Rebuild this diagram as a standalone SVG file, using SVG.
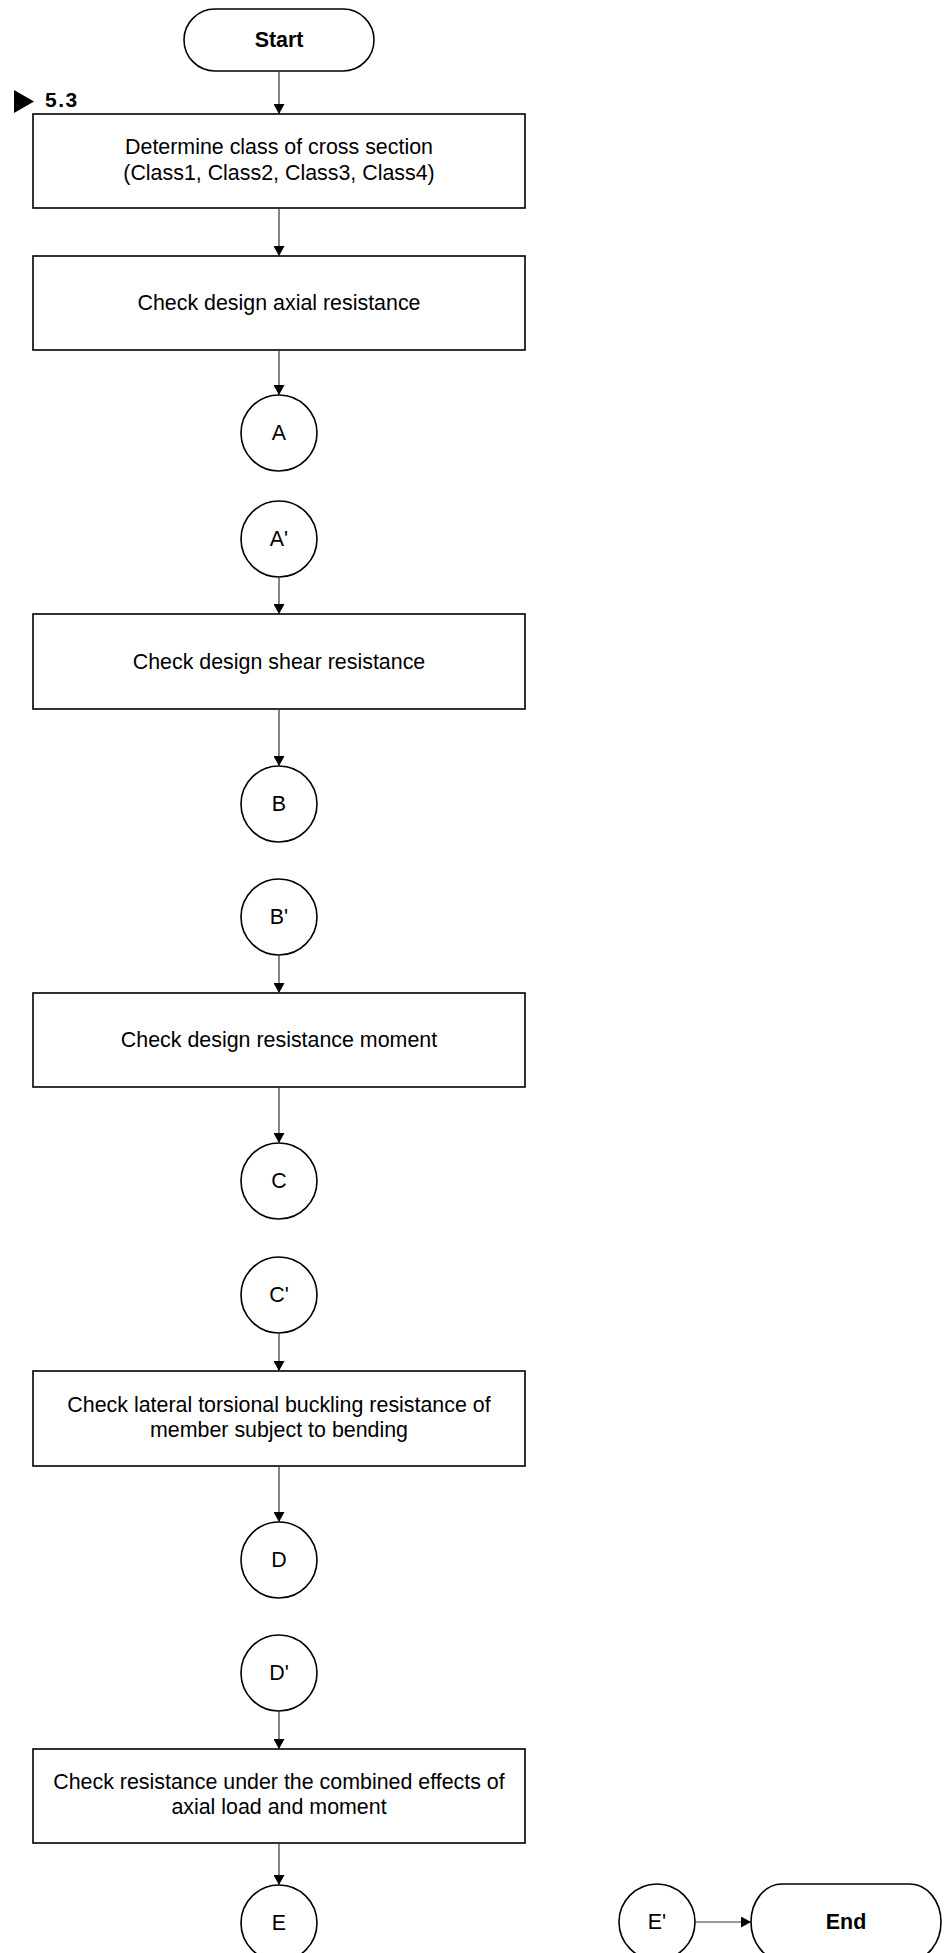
<svg xmlns="http://www.w3.org/2000/svg" width="945" height="1953" viewBox="0 0 945 1953">
<style>
.box{fill:#fff;stroke:#000;stroke-width:1.6}
.t{font-family:"Liberation Sans",Arial,sans-serif;font-size:21.4px;fill:#000;text-anchor:middle}
.b{font-weight:bold}
.c{fill:none;stroke:#333;stroke-width:1.2}
</style>
<defs>
<marker id="ah" markerUnits="userSpaceOnUse" markerWidth="10" markerHeight="11" refX="10" refY="5.5" orient="auto">
<path d="M0,0 L10,5.5 L0,11 z" fill="#000"/>
</marker>
</defs>
<rect width="945" height="1953" fill="#fff"/>
<g id="ref53">
<polygon points="14,90 34,101.5 14,113" fill="#000"/>
<text x="45" y="107" font-family="'Liberation Sans',Arial,sans-serif" font-size="21" font-weight="900" letter-spacing="1.5">5.3</text>
</g>
<g id="start"><rect class="box" x="184" y="9" width="190" height="62" rx="31" ry="31"/><text class="t b" x="279" y="47">Start</text></g>
<g id="box1"><rect class="box" x="33" y="114" width="492" height="94"/><text class="t" x="279" y="154">Determine class of cross section</text><text class="t" x="279" y="180">(Class1, Class2, Class3, Class4)</text></g>
<g id="box2"><rect class="box" x="33" y="256" width="492" height="94"/><text class="t" x="279" y="310">Check design axial resistance</text></g>
<g id="A"><circle class="box" cx="279" cy="433" r="38"/><text class="t" x="279" y="440">A</text></g>
<g id="A2"><circle class="box" cx="279" cy="539" r="38"/><text class="t" x="279" y="546">A'</text></g>
<g id="box3"><rect class="box" x="33" y="614" width="492" height="95"/><text class="t" x="279" y="669">Check design shear resistance</text></g>
<g id="B"><circle class="box" cx="279" cy="804" r="38"/><text class="t" x="279" y="811">B</text></g>
<g id="B2"><circle class="box" cx="279" cy="917" r="38"/><text class="t" x="279" y="924">B'</text></g>
<g id="box4"><rect class="box" x="33" y="993" width="492" height="94"/><text class="t" x="279" y="1047">Check design resistance moment</text></g>
<g id="C"><circle class="box" cx="279" cy="1181" r="38"/><text class="t" x="279" y="1188">C</text></g>
<g id="C2"><circle class="box" cx="279" cy="1295" r="38"/><text class="t" x="279" y="1302">C'</text></g>
<g id="box5"><rect class="box" x="33" y="1371" width="492" height="95"/><text class="t" x="279" y="1412">Check lateral torsional buckling resistance of</text><text class="t" x="279" y="1437">member subject to bending</text></g>
<g id="D"><circle class="box" cx="279" cy="1560" r="38"/><text class="t" x="279" y="1567">D</text></g>
<g id="D2"><circle class="box" cx="279" cy="1673" r="38"/><text class="t" x="279" y="1680">D'</text></g>
<g id="box6"><rect class="box" x="33" y="1749" width="492" height="94"/><text class="t" x="279" y="1789">Check resistance under the combined effects of</text><text class="t" x="279" y="1814">axial load and moment</text></g>
<g id="E"><circle class="box" cx="279" cy="1923" r="38"/><text class="t" x="279" y="1930">E</text></g>
<g id="E2"><circle class="box" cx="657" cy="1922" r="38"/><text class="t" x="657" y="1929">E'</text></g>
<g id="end"><rect class="box" x="751" y="1884" width="190" height="76" rx="31" ry="38"/><text class="t b" x="846" y="1929">End</text></g>
<g id="connectors">
<line class="c" x1="279" y1="71" x2="279" y2="114" marker-end="url(#ah)"/>
<line class="c" x1="279" y1="208" x2="279" y2="256" marker-end="url(#ah)"/>
<line class="c" x1="279" y1="350" x2="279" y2="395" marker-end="url(#ah)"/>
<line class="c" x1="279" y1="577" x2="279" y2="614" marker-end="url(#ah)"/>
<line class="c" x1="279" y1="709" x2="279" y2="766" marker-end="url(#ah)"/>
<line class="c" x1="279" y1="955" x2="279" y2="993" marker-end="url(#ah)"/>
<line class="c" x1="279" y1="1087" x2="279" y2="1143" marker-end="url(#ah)"/>
<line class="c" x1="279" y1="1333" x2="279" y2="1371" marker-end="url(#ah)"/>
<line class="c" x1="279" y1="1466" x2="279" y2="1522" marker-end="url(#ah)"/>
<line class="c" x1="279" y1="1711" x2="279" y2="1749" marker-end="url(#ah)"/>
<line class="c" x1="279" y1="1843" x2="279" y2="1885" marker-end="url(#ah)"/>
<line class="c" x1="695" y1="1922" x2="751" y2="1922" marker-end="url(#ah)"/>
</g>
</svg>
